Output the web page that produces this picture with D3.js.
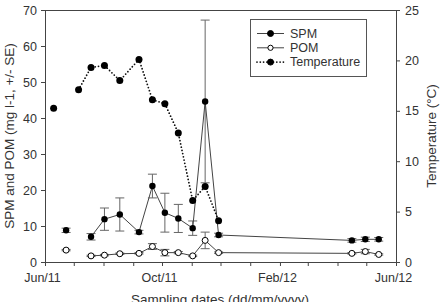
<!DOCTYPE html>
<html>
<head>
<meta charset="utf-8">
<script src="https://cdn.jsdelivr.net/npm/d3@7"></script>
<style>
  body { margin: 0; background: #fff; }
  text { font-family: "Liberation Sans", Arial, sans-serif; fill: #333; }
</style>
</head>
<body>
<div id="chart"></div>
<script>
// sampling dates for SPM / POM
var sampleDates = ["2011-06-23", "2011-07-19", "2011-08-02", "2011-08-18", "2011-09-07", "2011-09-21",
  "2011-10-04", "2011-10-18", "2011-11-02", "2011-11-15", "2011-11-29", "2012-04-16", "2012-04-30", "2012-05-14"];
var spm   = [8.8, 7.0, 11.9, 13.2, 8.3, 21.1, 13.7, 12.1, 9.4, 44.6, 7.5, 6.0, 6.3, 6.3];
var spmSE = [0.6, 0.9, 3.1, 4.6, 0.5, 3.3, 5.4, 3.9, 2.0, 22.6, 0.5, 0.5, 0.6, 0.5];
var pom   = [3.3, 1.7, 1.9, 2.3, 2.4, 4.3, 2.6, 2.6, 1.7, 6.0, 2.6, 2.4, 2.9, 2.1];
var pomSE = [0.2, 0.2, 0.2, 0.2, 0.2, 0.8, 0.9, 0.3, 0.2, 2.3, 0.2, 0.2, 0.6, 0.2];

// temperature dates and values
var tempDates = ["2011-06-10", "2011-07-06", "2011-07-19", "2011-08-02", "2011-08-18", "2011-09-07",
  "2011-09-21", "2011-10-04", "2011-10-18", "2011-11-02", "2011-11-15", "2011-11-29"];
var temp = [15.25, 17.1, 19.3, 19.5, 18.0, 20.1, 16.1, 15.7, 12.8, 6.1, 7.5, 4.1];

var leftTicks = [0, 10, 20, 30, 40, 50, 60, 70];
var rightTicks = [0, 5, 10, 15, 20, 25];
var legendLabels = ["SPM", "POM", "Temperature"];

var parse = d3.timeParse("%Y-%m-%d");

var svg = d3.select("#chart").append("svg")
  .attr("width", 448)
  .attr("height", 302);

var plotL = 45, plotR = 396, plotT = 10, plotB = 262;

var x = d3.scaleTime()
  .domain([parse("2011-06-01"), parse("2012-06-01")])
  .range([plotL, plotR]);
var y = d3.scaleLinear().domain([0, 70]).range([plotB, plotT]);
var y2 = d3.scaleLinear().domain([0, 25]).range([plotB, plotT]);

var samples = sampleDates.map(function(d, i) {
  return {date: parse(d), spm: spm[i], spmSE: spmSE[i], pom: pom[i], pomSE: pomSE[i]};
});
var temps = tempDates.map(function(d, i) {
  return {date: parse(d), t: temp[i]};
});

// frame
svg.append("line").attr("x1", plotL).attr("x2", plotR).attr("y1", plotT + 0.5).attr("y2", plotT + 0.5)
  .attr("stroke", "#444");

var fmt = d3.timeFormat("%b/%y");
var xAxis = svg.append("g")
  .attr("transform", "translate(0," + plotB + ")")
  .call(d3.axisBottom(x)
    .ticks(d3.timeMonth.every(1))
    .tickSize(4)
    .tickPadding(7)
    .tickFormat(function(d) { return d.getMonth() % 4 == 1 ? fmt(d) : ""; }));
xAxis.selectAll(".tick text").attr("dx", -3);

var yAxis = svg.append("g")
  .attr("transform", "translate(" + plotL + ",0)")
  .call(d3.axisLeft(y).tickValues(leftTicks).tickSize(4).tickPadding(4).tickFormat(d3.format("d")));

var y2Axis = svg.append("g")
  .attr("transform", "translate(" + plotR + ",0)")
  .call(d3.axisRight(y2).tickValues(rightTicks).tickSize(4).tickPadding(5).tickFormat(d3.format("d")));

[xAxis, yAxis, y2Axis].forEach(function(a) {
  a.select(".domain").attr("stroke", "#444");
  a.selectAll(".tick line").attr("stroke", "#444");
  a.selectAll("text").attr("font-size", 12.5).attr("font-family", null).attr("fill", "#333");
});

// error bars
function errorBars(key, seKey) {
  var g = svg.append("g").attr("stroke", "#666").attr("stroke-width", 1);
  samples.forEach(function(d) {
    var cx = x(d.date), lo = y(d[key] - d[seKey]), hi = y(d[key] + d[seKey]);
    g.append("line").attr("x1", cx).attr("x2", cx).attr("y1", lo).attr("y2", hi);
    g.append("line").attr("x1", cx - 4.5).attr("x2", cx + 4.5).attr("y1", lo).attr("y2", lo);
    g.append("line").attr("x1", cx - 4.5).attr("x2", cx + 4.5).attr("y1", hi).attr("y2", hi);
  });
}
errorBars("spm", "spmSE");
errorBars("pom", "pomSE");

// lines (first sample is not joined)
var spmLine = d3.line().x(function(d) { return x(d.date); }).y(function(d) { return y(d.spm); });
var pomLine = d3.line().x(function(d) { return x(d.date); }).y(function(d) { return y(d.pom); });
var tempLine = d3.line().x(function(d) { return x(d.date); }).y(function(d) { return y2(d.t); });

svg.append("path").datum(samples.slice(1)).attr("d", spmLine)
  .attr("fill", "none").attr("stroke", "#444").attr("stroke-width", 1);
svg.append("path").datum(samples.slice(1)).attr("d", pomLine)
  .attr("fill", "none").attr("stroke", "#444").attr("stroke-width", 1);
svg.append("path").datum(temps.slice(1)).attr("d", tempLine)
  .attr("fill", "none").attr("stroke", "#111").attr("stroke-width", 1.8)
  .attr("stroke-linecap", "round").attr("stroke-dasharray", "0,3.3");

// markers
svg.selectAll(".tmp").data(temps).enter().append("circle")
  .attr("cx", function(d) { return x(d.date); })
  .attr("cy", function(d) { return y2(d.t); })
  .attr("r", 3.5).attr("fill", "#000");
svg.selectAll(".spm").data(samples).enter().append("circle")
  .attr("cx", function(d) { return x(d.date); })
  .attr("cy", function(d) { return y(d.spm); })
  .attr("r", 3.2).attr("fill", "#000");
svg.selectAll(".pom").data(samples).enter().append("circle")
  .attr("cx", function(d) { return x(d.date); })
  .attr("cy", function(d) { return y(d.pom); })
  .attr("r", 3).attr("fill", "#fff").attr("stroke", "#000").attr("stroke-width", 1);

// legend
var lg = svg.append("g");
lg.append("rect").attr("x", 250.5).attr("y", 19.5).attr("width", 116).attr("height", 57)
  .attr("fill", "#fff").attr("stroke", "#555");
legendLabels.forEach(function(name, i) {
  var ly = 33.5 + i * 14.3;
  var l = lg.append("line").attr("x1", 257).attr("x2", 284).attr("y1", ly).attr("y2", ly);
  if (i == 2) {
    l.attr("stroke", "#111").attr("stroke-width", 1.8).attr("stroke-linecap", "round")
      .attr("stroke-dasharray", "0,3.3");
  } else {
    l.attr("stroke", "#444");
  }
  lg.append("circle").attr("cx", 270.5).attr("cy", ly).attr("r", i == 1 ? 2.6 : 3)
    .attr("fill", i == 1 ? "#fff" : "#000").attr("stroke", "#000");
  lg.append("text").attr("x", 290).attr("y", ly + 4.3).attr("font-size", 12.5).text(name);
});

// axis titles
svg.append("text")
  .attr("transform", "translate(14,136) rotate(-90)")
  .attr("text-anchor", "middle").attr("font-size", 13.5)
  .text("SPM and POM (mg l-1, +/- SE)");
svg.append("text")
  .attr("transform", "translate(436,136) rotate(-90)")
  .attr("text-anchor", "middle").attr("font-size", 13.5)
  .text("Temperature (°C)");
svg.append("text")
  .attr("x", 220).attr("y", 304)
  .attr("text-anchor", "middle").attr("font-size", 13.5)
  .text("Sampling dates (dd/mm/yyyy)");
</script>
</body>
</html>
